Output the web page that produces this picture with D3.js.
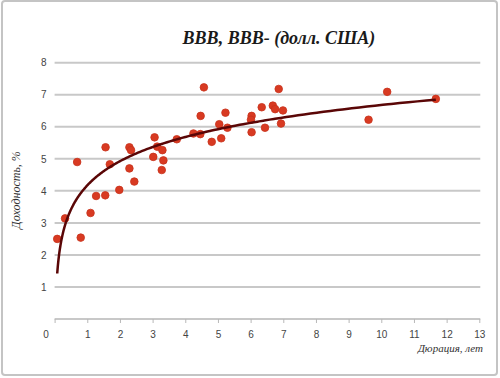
<!DOCTYPE html>
<html>
<head>
<meta charset="utf-8">
<script src="https://cdn.jsdelivr.net/npm/d3@7"></script>
<style>
  body { margin: 0; background: #fff; }
</style>
</head>
<body>
<script>
var durations = [0.08, 0.32, 0.69, 0.80, 1.10, 1.27, 1.55, 1.56, 1.69, 1.98,
    2.29, 2.34, 2.29, 2.44, 3.06, 3.14, 3.30, 3.02, 3.33, 3.28,
    3.74, 4.25, 4.46, 4.47, 4.57, 4.81, 5.04, 5.10, 5.23, 5.29,
    6.03, 6.01, 6.03, 6.34, 6.44, 6.68, 6.75, 6.99, 6.86, 6.93,
    9.61, 10.18, 11.67];
var yields = [2.50, 3.14, 4.90, 2.54, 3.31, 3.84, 3.86, 5.36, 4.83, 4.03,
    5.36, 5.27, 4.70, 4.29, 5.67, 5.38, 5.27, 5.06, 4.95, 4.65,
    5.61, 5.79, 5.77, 6.34, 7.23, 5.53, 6.08, 5.64, 6.44, 5.97,
    6.34, 6.22, 5.83, 6.61, 5.97, 6.66, 6.55, 6.51, 7.18, 6.10,
    6.22, 7.09, 6.87];
var xTicks = d3.range(0, 14);
var yTicks = d3.range(1, 9);

var title = 'BBB, BBB- (долл. США)';
var xTitle = 'Дюрация, лет';
var yTitle = 'Доходность, %';

var width = 500, height = 378;

var svg = d3.select('body').append('svg')
    .attr('width', width)
    .attr('height', height);

// outer frame
svg.append('rect')
    .attr('x', 2).attr('y', 1)
    .attr('width', 495).attr('height', 374)
    .attr('rx', 3)
    .attr('fill', 'none')
    .attr('stroke', '#c4c4c4')
    .attr('stroke-width', 2);

var x = d3.scaleLinear().domain([0, 13]).range([54.6, 479.3]);
var y = d3.scaleLinear().domain([0, 8]).range([319, 62.7]);

// grid lines
svg.append('g')
    .selectAll('line')
    .data(d3.range(0, 9))
    .join('line')
    .attr('x1', x(0)).attr('x2', x(13) + 1)
    .attr('y1', d => y(d)).attr('y2', d => y(d))
    .attr('stroke', '#c8c8c8')
    .attr('stroke-width', 2);

// x axis
var xAxis = svg.append('g')
    .attr('transform', `translate(0, ${y(0)})`)
    .call(d3.axisBottom(x).tickValues(xTicks).tickSize(4).tickPadding(8).tickFormat(d3.format('d')));
xAxis.select('.domain').remove();
xAxis.selectAll('line').attr('stroke', '#b8b8b8');
xAxis.selectAll('text')
    .attr('fill', '#444')
    .style('font-family', 'Liberation Sans, Arial, sans-serif')
    .style('font-size', '10px');
xAxis.selectAll('.tick').filter(d => d === 0).select('text').attr('dx', -9);

// y axis
var yAxis = svg.append('g')
    .attr('transform', `translate(${x(0)}, 0)`)
    .call(d3.axisLeft(y).tickValues(yTicks).tickSize(0).tickPadding(8));
yAxis.select('.domain').remove();
yAxis.selectAll('text')
    .attr('fill', '#444')
    .style('font-family', 'Liberation Sans, Arial, sans-serif')
    .style('font-size', '10px');

// title
svg.append('text')
    .attr('x', 279).attr('y', 44)
    .attr('text-anchor', 'middle')
    .style('font-family', 'Liberation Serif, Times New Roman, serif')
    .style('font-size', '18px')
    .style('font-weight', 'bold')
    .style('font-style', 'italic')
    .attr('fill', '#1a1a1a')
    .text(title);

svg.append('text')
    .attr('x', 483).attr('y', 352)
    .attr('text-anchor', 'end')
    .style('font-family', 'Liberation Serif, Times New Roman, serif')
    .style('font-size', '11px')
    .style('font-style', 'italic')
    .attr('fill', '#333')
    .text(xTitle);

svg.append('text')
    .attr('transform', 'translate(20, 190) rotate(-90)')
    .attr('text-anchor', 'middle')
    .style('font-family', 'Liberation Serif, Times New Roman, serif')
    .style('font-size', '12px')
    .style('font-style', 'italic')
    .attr('fill', '#333')
    .text(yTitle);

// points
var points = durations.map((d, i) => ({ x: d, y: yields[i] }));
svg.append('g')
    .selectAll('circle')
    .data(points)
    .join('circle')
    .attr('cx', d => x(d.x))
    .attr('cy', d => y(d.y))
    .attr('r', 3.8)
    .attr('fill', '#d83a22')
    .attr('stroke', '#c8321c')
    .attr('stroke-width', 0.8);

// logarithmic trend line fitted to the points
var lx = points.map(p => Math.log(p.x));
var mx = d3.mean(lx), my = d3.mean(yields);
var b = d3.sum(lx, (v, i) => (v - mx) * (yields[i] - my)) / d3.sum(lx, v => (v - mx) * (v - mx));
var a = my - b * mx;
var ext = d3.extent(durations);
var trend = d3.range(0, 201).map(i => {
    var xv = ext[0] * Math.pow(ext[1] / ext[0], i / 200);
    return { x: xv, y: a + b * Math.log(xv) };
});
svg.append('path')
    .attr('d', d3.line().x(d => x(d.x)).y(d => y(d.y)).curve(d3.curveMonotoneX)(trend))
    .attr('fill', 'none')
    .attr('stroke', '#5a0606')
    .attr('stroke-width', 2.5);
</script>
</body>
</html>
